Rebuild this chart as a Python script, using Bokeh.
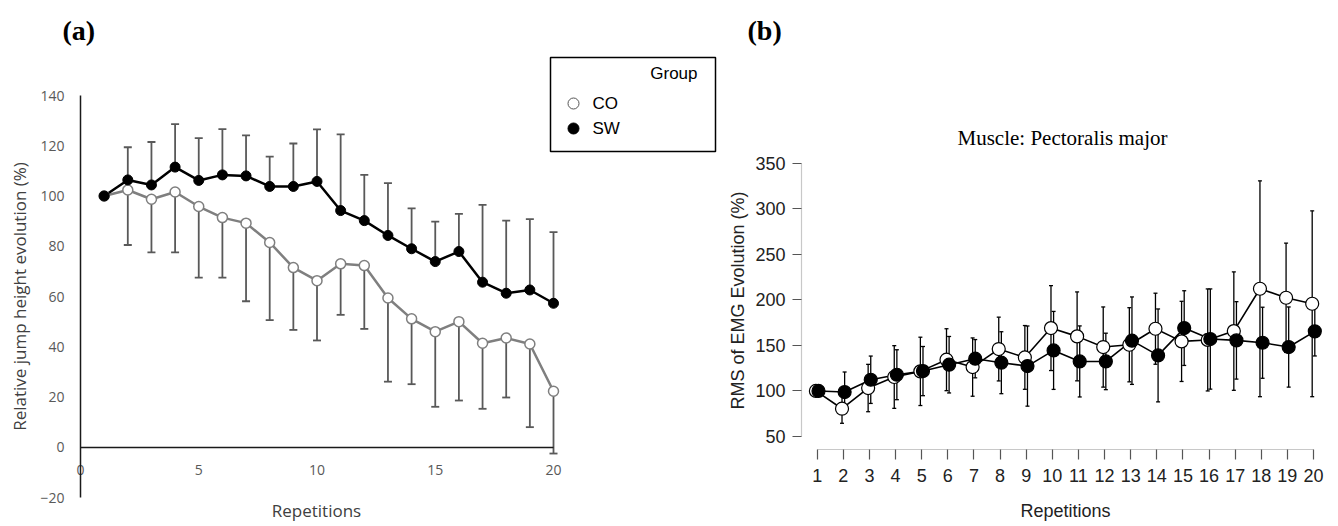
import math
from bokeh.plotting import figure
from bokeh.models import (ColumnDataSource, Whisker, TeeHead, FixedTicker,
                          Range1d, LinearAxis)
from bokeh.embed import file_html
from bokeh.resources import INLINE
from bokeh.core.properties import value

# ---------------- data ----------------
reps = list(range(1, 21))

# (a) relative jump height evolution (%), mean and SD
sw_jump = [100, 106.4, 104.4, 111.5, 106.2, 108.4, 108.0, 103.8, 103.8, 105.8,
           94.2, 90.2, 84.3, 79.0, 73.9, 77.9, 65.7, 61.3, 62.6, 57.3]
sw_jump_sd = [0, 13.0, 17.1, 17.1, 16.8, 18.2, 16.1, 11.9, 17.1, 20.7,
              30.3, 18.2, 20.8, 16.1, 15.9, 15.0, 30.8, 28.9, 28.2, 28.3]
co_jump = [100, 102.4, 98.7, 101.6, 95.8, 91.4, 89.2, 81.5, 71.5, 66.3,
           73.0, 72.3, 59.4, 51.1, 46.0, 50.0, 41.4, 43.5, 41.1, 22.3]
co_jump_sd = [0, 21.9, 21.1, 24.0, 28.3, 23.9, 31.1, 30.9, 24.8, 23.8,
              20.3, 25.2, 33.3, 26.0, 29.9, 31.4, 26.1, 23.7, 33.1, 24.8]

# (b) RMS of EMG evolution (%), mean and error half-width
co_rms = [100, 80.5, 103.2, 115.3, 121.5, 134.3, 126.2, 146.0, 136.8, 169.0,
          159.9, 148.2, 150.7, 168.3, 154.4, 156.0, 165.7, 212.2, 202.3, 195.7]
co_rms_err = [0, 16, 26, 34.4, 37.5, 34, 32, 35, 35, 46.6,
              48.8, 44, 40.7, 39, 44, 56, 65, 118.5, 60, 102]
sw_rms = [100, 98.8, 112.3, 117.8, 121.8, 128.8, 135.4, 131.0, 127.3, 144.5,
          132.4, 132.4, 155.2, 139.0, 169.0, 157.0, 155.5, 152.9, 148.2, 165.4]
sw_rms_err = [0, 22, 26, 27.4, 27, 31, 21, 34, 44, 42.8,
              39, 31, 48, 51, 41, 55, 42.5, 39, 44, 27]

jump_xticks = [0, 5, 10, 15, 20]
jump_yticks = [-20, 0, 20, 40, 60, 80, 100, 120, 140]
rms_yticks = [50, 100, 150, 200, 250, 300, 350]
groups = ["CO", "SW"]
legend_title = "Group"
panel_tags = ["(a)", "(b)"]
title_b = "Muscle: Pectoralis major"
xlabel = "Repetitions"
ylabel_a = "Relative jump height evolution (%)"
ylabel_b = "RMS of EMG Evolution (%)"

# ---------------- canvas geometry (page pixels; the canvas sits at the page origin) ----
W, H = 1338, 526
X0, Y0 = 0, 0


def span_range(v0, p0, v1, p1, pa, pb):
    """Range whose values at pixel pa / pb follow the line through (p0,v0),(p1,v1)."""
    k = (v1 - v0) / (p1 - p0)
    return Range1d(v0 + (pa - p0) * k, v0 + (pb - p0) * k)


p = figure(width=W, height=H, min_border=0,
           x_range=Range1d(X0, X0 + W), y_range=Range1d(Y0 + H, Y0),
           x_axis_location=None, y_axis_location=None,
           output_backend="svg", toolbar_location=None)
p.outline_line_color = None
p.grid.visible = False

# panel (a) scales: x 0 -> 80px, 20 -> 553px ; y 140 -> 95px, -20 -> 497px
p.extra_x_ranges["a"] = span_range(0, 80, 20, 553, X0, X0 + W)
p.extra_y_ranges["a"] = span_range(-20, 497, 140, 95, Y0 + H, Y0)
# panel (b) scales: x 1 -> 816.7px, 20 -> 1313px ; y 50 -> 436px, 350 -> 162.7px
p.extra_x_ranges["b"] = span_range(1, 816.7, 20, 1313, X0, X0 + W)
p.extra_y_ranges["b"] = span_range(50, 436, 350, 162.7, Y0 + H, Y0)

# ---------------- panel (a) ----------------
src_sw = ColumnDataSource(dict(x=reps, y=sw_jump,
                               up=[m + s for m, s in zip(sw_jump, sw_jump_sd)]))
src_co = ColumnDataSource(dict(x=reps, y=co_jump,
                               lo=[m - s for m, s in zip(co_jump, co_jump_sd)]))
bar_col = "#595959"
p.add_layout(Whisker(base="x", upper="up", lower="y", source=src_sw,
                     x_range_name="a", y_range_name="a", level="underlay",
                     line_color=bar_col, line_width=1.8,
                     upper_head=TeeHead(size=8, line_color=bar_col, line_width=1.8),
                     lower_head=None))
p.add_layout(Whisker(base="x", upper="y", lower="lo", source=src_co,
                     x_range_name="a", y_range_name="a", level="underlay",
                     line_color=bar_col, line_width=1.8,
                     lower_head=TeeHead(size=8, line_color=bar_col, line_width=1.8),
                     upper_head=None))
kw_a = dict(x_range_name="a", y_range_name="a")
p.line("x", "y", source=src_co, line_color="#7f7f7f", line_width=2.5, **kw_a)
p.line("x", "y", source=src_sw, line_color="black", line_width=2.5, **kw_a)
p.scatter("x", "y", source=src_co, size=10, fill_color="white",
          line_color="#7f7f7f", line_width=1.5, **kw_a)
p.scatter("x", "y", source=src_sw, size=10, fill_color="black", line_color="black", **kw_a)

ya = LinearAxis(x_range_name="a", y_range_name="a", fixed_location=0, bounds=(-20, 140),
                ticker=FixedTicker(ticks=jump_yticks))
xa = LinearAxis(x_range_name="a", y_range_name="a", fixed_location=0, bounds=(0, 20),
                ticker=FixedTicker(ticks=jump_xticks))
for ax in (xa, ya):
    ax.axis_line_color = "#1a1a1a"
    ax.axis_line_width = 1.5
    ax.major_tick_line_color = None
    ax.major_tick_out = 0
    ax.major_tick_in = 0
    ax.minor_tick_line_color = None
    ax.major_label_text_font = "Open Sans"
    ax.major_label_text_font_size = "14px"
    ax.major_label_text_color = "#595959"
    ax.major_label_standoff = 16
xa.major_label_standoff = 18
p.add_layout(ya, "left")
p.add_layout(xa, "below")

# ---------------- panel (b) ----------------
dodge = 0.05
src_cob = ColumnDataSource(dict(x=[r - dodge for r in reps], y=co_rms,
                                up=[m + e for m, e in zip(co_rms, co_rms_err)],
                                lo=[m - e for m, e in zip(co_rms, co_rms_err)]))
src_swb = ColumnDataSource(dict(x=[r + dodge for r in reps], y=sw_rms,
                                up=[m + e for m, e in zip(sw_rms, sw_rms_err)],
                                lo=[m - e for m, e in zip(sw_rms, sw_rms_err)]))
kw_b = dict(x_range_name="b", y_range_name="b")
for s in (src_cob, src_swb):
    p.add_layout(Whisker(base="x", upper="up", lower="lo", source=s, level="underlay",
                         line_color="black", line_width=1.3,
                         upper_head=TeeHead(size=4, line_color="black", line_width=1.3),
                         lower_head=TeeHead(size=4, line_color="black", line_width=1.3),
                         **kw_b))
p.line("x", "y", source=src_cob, line_color="black", line_width=1.6, **kw_b)
p.line("x", "y", source=src_swb, line_color="black", line_width=1.6, **kw_b)
p.scatter("x", "y", source=src_cob, size=13, fill_color="white",
          line_color="black", line_width=1.2, **kw_b)
p.scatter("x", "y", source=src_swb, size=13, fill_color="black",
          line_color="black", line_width=1.2, **kw_b)

yb = LinearAxis(x_range_name="b", y_range_name="b", fixed_location=0.4, bounds=(50, 350),
                ticker=FixedTicker(ticks=rms_yticks))
xb = LinearAxis(x_range_name="b", y_range_name="b", fixed_location=35.7, bounds=(1, 20),
                ticker=FixedTicker(ticks=reps))
for ax in (xb, yb):
    ax.axis_line_color = "#c8c8c8"
    ax.axis_line_width = 1.2
    ax.major_tick_line_color = "#555555"
    ax.major_tick_line_width = 1.2
    ax.major_tick_in = 0
    ax.minor_tick_line_color = None
    ax.major_label_text_font = "Liberation Sans"
    ax.major_label_text_font_size = "18px"
    ax.major_label_text_color = "#222222"
xb.major_tick_out = 10
xb.major_label_standoff = 9
yb.major_tick_out = 9
yb.major_label_standoff = 7
p.add_layout(yb, "left")
p.add_layout(xb, "below")

# ---------------- texts, titles and legend (page pixel coordinates) ----------------
p.text(x=[62, 747], y=[30, 30], text=panel_tags, text_align="left", text_baseline="middle",
       text_font=value("Liberation Serif"), text_font_style="bold",
       text_font_size="28px", text_color="black")
p.text(x=[1062], y=[137], text=[title_b], text_align="center", text_baseline="middle",
       text_font=value("Liberation Serif"), text_font_size="21px", text_color="black")
p.text(x=[316], y=[510], text=[xlabel], text_align="center", text_baseline="middle",
       text_font=value("Open Sans"), text_font_size="17px", text_color="#404040")
p.text(x=[19], y=[296], text=[ylabel_a], angle=math.pi / 2, text_align="center",
       text_baseline="middle", text_font=value("Open Sans"), text_font_size="17px",
       text_color="#404040")
p.text(x=[1065], y=[510], text=[xlabel], text_align="center", text_baseline="middle",
       text_font=value("Liberation Sans"), text_font_size="18px", text_color="#222222")
p.text(x=[737], y=[300], text=[ylabel_b], angle=math.pi / 2, text_align="center",
       text_baseline="middle", text_font=value("Liberation Sans"), text_font_size="18px",
       text_color="#222222")

p.quad(left=[550], right=[715], top=[57], bottom=[151], fill_alpha=0,
       line_color="black", line_width=1.5)
p.text(x=[697], y=[73], text=[legend_title], text_align="right", text_baseline="middle",
       text_font=value("Liberation Sans"), text_font_size="17px", text_color="black")
p.scatter(x=[573], y=[103], size=11, fill_color="white", line_color="#555555", line_width=1)
p.scatter(x=[573], y=[128], size=11, fill_color="black", line_color="black")
p.text(x=[592, 592], y=[103, 128], text=groups, text_align="left", text_baseline="middle",
       text_font=value("Liberation Sans"), text_font_size="17px", text_color="black")

open("out.html", "w").write(file_html(p, INLINE))
